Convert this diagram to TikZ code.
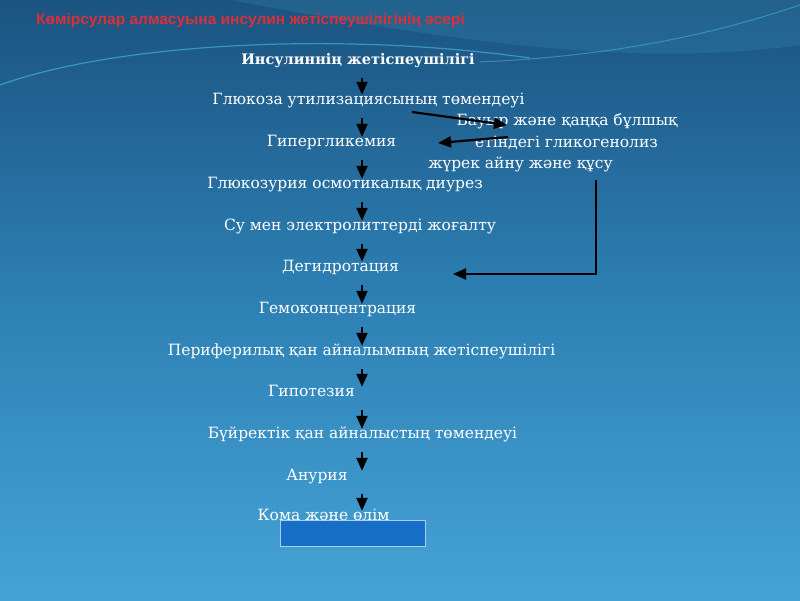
\documentclass[tikz,border=0pt]{standalone}
\usepackage{fontspec}
\setmainfont{DejaVu Serif}
\newfontfamily\titlefont{Liberation Sans}
\usetikzlibrary{arrows.meta}
\definecolor{bgtop}{HTML}{1B5380}
\definecolor{bgmid}{HTML}{2D80B4}
\definecolor{bgbot}{HTML}{46A3D6}
\definecolor{titlered}{HTML}{D9303A}
\definecolor{boxblue}{HTML}{176EC6}
\definecolor{boxedge}{HTML}{A9CFEC}
\tikzset{
  lbl/.style={text=white, inner sep=0pt, text height=12pt, text depth=4pt, font=\fontsize{15.5}{18}\selectfont},
  arr/.style={draw=black, line width=2.2pt, -{Triangle[width=11pt,length=13pt]}},
  varr/.style={arr, shorten <=10pt, shorten >=-3pt},
}
\begin{document}
\begin{tikzpicture}[x=1pt,y=-1pt]
\useasboundingbox (0,0) rectangle (800,600);
% background
\shade[top color=bgtop, bottom color=bgbot, middle color=bgmid] (0,0) rectangle (800,600);
\fill[color=cyan!40!teal, opacity=0.25] (230,0) .. controls (420,35) and (620,70) .. (800,45) -- (800,0) -- cycle;
\draw[color=cyan!70!white, opacity=0.55, line width=1.2pt] (0,85) .. controls (110,45) and (330,30) .. (530,58);
\draw[color=cyan!70!white, opacity=0.45, line width=1pt] (480,62) .. controls (640,55) and (740,25) .. (800,5);
% title
\node[text=titlered, inner sep=0pt, font=\titlefont\bfseries\fontsize{15.5}{18}\selectfont] (title) at (250.5,20) {Көмірсулар алмасуына инсулин жетіспеушілігінің әсері};
% box
\node[draw=boxedge, fill=boxblue, line width=0.8pt, minimum width=145pt, minimum height=26pt, inner sep=0pt] (box) at (352.5,533) {};
% chain
\node[lbl, font=\bfseries\fontsize{14.5}{18}\selectfont] (ins) at (358,60) {Инсулиннің жетіспеушілігі};
\node[lbl] (glu) at (368.5,100) {Глюкоза утилизациясының төмендеуі};
\node[lbl] (hyp) at (331.5,142) {Гипергликемия};
\node[lbl] (gluz) at (345,184) {Глюкозурия осмотикалық диурез};
\node[lbl] (su) at (360,226) {Су мен электролиттерді жоғалту};
\node[lbl] (deg) at (340.5,267) {Дегидротация};
\node[lbl] (gem) at (337.5,309) {Гемоконцентрация};
\node[lbl] (per) at (361.5,351) {Периферилық қан айналымның жетіспеушілігі};
\node[lbl] (hypot) at (311.5,392) {Гипотезия};
\node[lbl] (buy) at (362.5,434) {Бүйректік қан айналыстың төмендеуі};
\node[lbl] (anur) at (317,476) {Анурия};
\node[lbl] (koma) at (323.5,516) {Кома және өлім};
% right texts
\node[lbl] (r1) at (567,121) {Бауыр және қаңқа бұлшық};
\node[lbl] (r2) at (566.5,143) {етіндегі гликогенолиз};
\node[lbl] (r3) at (520.5,164) {жүрек айну және құсу};
% vertical arrows
\coordinate (ax) at (362,0);
\draw[varr] (ins.south -| ax) -- (glu.north -| ax);
\draw[varr] (glu.south -| ax) -- (hyp.north -| ax);
\draw[varr] (hyp.south -| ax) -- (gluz.north -| ax);
\draw[varr] (gluz.south -| ax) -- (su.north -| ax);
\draw[varr] (su.south -| ax) -- (deg.north -| ax);
\draw[varr] (deg.south -| ax) -- (gem.north -| ax);
\draw[varr] (gem.south -| ax) -- (per.north -| ax);
\draw[varr] (per.south -| ax) -- (hypot.north -| ax);
\draw[varr] (hypot.south -| ax) -- (buy.north -| ax);
\draw[varr] (buy.south -| ax) -- (anur.north -| ax);
\draw[varr] (anur.south -| ax) -- (koma.north -| ax);
% side arrows
\coordinate (s1) at (412,112);
\coordinate (e1) at (507,125);
\draw[arr] (s1) -- (e1);
\coordinate (s2) at (508,137);
\coordinate (e2) at (438,143);
\draw[arr] (s2) -- (e2);
\coordinate (s3) at (596,180);
\coordinate (c3) at (596,274);
\coordinate (e3) at (453,274);
\draw[arr] (s3) -- (c3) -- (e3);
\end{tikzpicture}
\end{document}
